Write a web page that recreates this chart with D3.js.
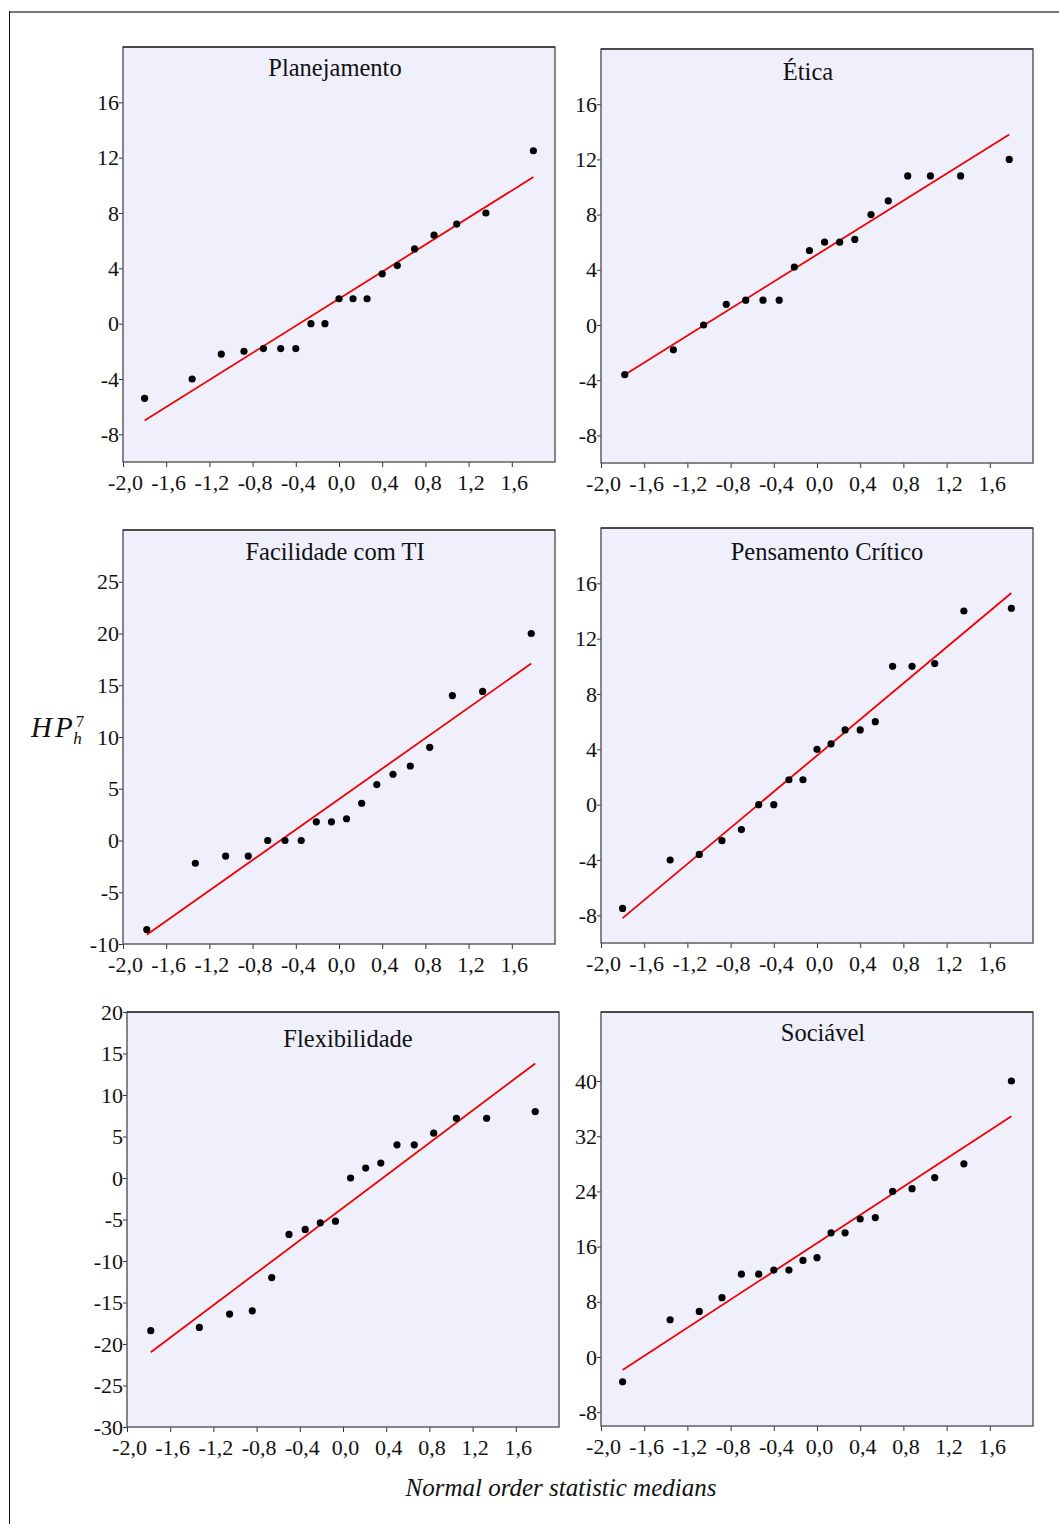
<!DOCTYPE html>
<html>
<head>
<meta charset="utf-8">
<script src="https://cdn.jsdelivr.net/npm/d3@7"></script>
<style>
  body { margin: 0; background: #fff; }
  svg { display: block; }
  .tick text { font-family: "Liberation Serif", "Times New Roman", serif; font-size: 22px; fill: #111; }
  .tick line { stroke: #333; }
  .title { font-family: "Liberation Serif", "Times New Roman", serif; font-size: 24.5px; fill: #111; }
</style>
</head>
<body>
<div id="content"></div>
<script>
// normal order statistic medians (19 and 18 points)
let xMedians19 = [-1.80, -1.36, -1.09, -0.88, -0.70, -0.54, -0.40, -0.26, -0.13, 0.00,
                  0.13, 0.26, 0.40, 0.54, 0.70, 0.88, 1.09, 1.36, 1.80];
let xMedians18 = [-1.78, -1.33, -1.05, -0.84, -0.66, -0.50, -0.35, -0.21, -0.07,
                  0.07, 0.21, 0.35, 0.50, 0.66, 0.84, 1.05, 1.33, 1.78];

// HP values per competence
let planejamentoY = [-5.4, -4.0, -2.2, -2.0, -1.8, -1.8, -1.8, 0, 0, 1.8, 1.8, 1.8, 3.6, 4.2, 5.4, 6.4, 7.2, 8.0, 12.5];
let eticaY = [-3.6, -1.8, 0, 1.5, 1.8, 1.8, 1.8, 4.2, 5.4, 6.0, 6.0, 6.2, 8.0, 9.0, 10.8, 10.8, 10.8, 12.0];
let facilidadeY = [-8.6, -2.2, -1.5, -1.5, 0, 0, 0, 1.8, 1.8, 2.1, 3.6, 5.4, 6.4, 7.2, 9.0, 14.0, 14.4, 20.0];
let pensamentoY = [-7.5, -4.0, -3.6, -2.6, -1.8, 0, 0, 1.8, 1.8, 4.0, 4.4, 5.4, 5.4, 6.0, 10.0, 10.0, 10.2, 14.0, 14.2];
let flexibilidadeY = [-18.4, -18.0, -16.4, -16.0, -12.0, -6.8, -6.2, -5.4, -5.2, 0, 1.2, 1.8, 4.0, 4.0, 5.4, 7.2, 7.2, 8.0];
let sociavelY = [-3.6, 5.4, 6.6, 8.6, 12.0, 12.0, 12.6, 12.6, 14.0, 14.4, 18.0, 18.0, 20.0, 20.2, 24.0, 24.4, 26.0, 28.0, 40.0];

// fitted line: value at first and at last median
let planejamentoFit = [-7.0, 10.6];
let eticaFit = [-3.6, 13.8];
let facilidadeFit = [-9.1, 17.1];
let pensamentoFit = [-8.2, 15.3];
let flexibilidadeFit = [-21.0, 13.8];
let sociavelFit = [-1.9, 34.9];

let titles = ["Planejamento", "Ética", "Facilidade com TI", "Pensamento Crítico", "Flexibilidade", "Sociável"];

let xTicks = [-2.0, -1.6, -1.2, -0.8, -0.4, 0.0, 0.4, 0.8, 1.2, 1.6];
let yTicks16 = [-8, -4, 0, 4, 8, 12, 16];
let yTicks25 = [-10, -5, 0, 5, 10, 15, 20, 25];
let yTicks20 = [-30, -25, -20, -15, -10, -5, 0, 5, 10, 15, 20];
let yTicks40 = [-8, 0, 8, 16, 24, 32, 40];

let yDomains = [[-10, 20], [-10, 20], [-10, 30], [-10, 20], [-30, 20], [-10, 50]];

let panels = [
    {x: xMedians19, y: planejamentoY, fit: planejamentoFit, ticks: yTicks16},
    {x: xMedians18, y: eticaY, fit: eticaFit, ticks: yTicks16},
    {x: xMedians18, y: facilidadeY, fit: facilidadeFit, ticks: yTicks25},
    {x: xMedians19, y: pensamentoY, fit: pensamentoFit, ticks: yTicks16},
    {x: xMedians18, y: flexibilidadeY, fit: flexibilidadeFit, ticks: yTicks20},
    {x: xMedians19, y: sociavelY, fit: sociavelFit, ticks: yTicks40}
];

// where each panel box sits on the page
const layout = [
    {left: 123, top: 47, w: 432, h: 415, tx: 335, ty: 29},
    {left: 601, top: 49, w: 432, h: 414, tx: 808, ty: 31},
    {left: 123, top: 530, w: 432, h: 414, tx: 335, ty: 30},
    {left: 601, top: 528, w: 432, h: 415, tx: 827, ty: 32},
    {left: 127, top: 1012, w: 432, h: 415, tx: 348, ty: 35},
    {left: 601, top: 1012, w: 432, h: 414, tx: 823, ty: 29}
];

const width = 1059, height = 1524;
// hyphen instead of d3's unicode minus, comma as decimal mark
const commaFormat = d => d3.format(".1f")(d).replace("−", "-").replace(".", ",");
const intFormat = d => d3.format("d")(d).replace("−", "-");

var svg = d3.select("#content")
    .append("svg")
    .attr("width", width)
    .attr("height", height);

// outer frame (only top and left visible)
svg.append("line")
    .attr("x1", 9).attr("x2", width).attr("y1", 12).attr("y2", 12)
    .style("stroke", "#7a7a7a").style("stroke-width", 2);
svg.append("line")
    .attr("x1", 9.5).attr("x2", 9.5).attr("y1", 11).attr("y2", height)
    .style("stroke", "#111").style("stroke-width", 1);

function drawPanel(p, i)
{
    let L = layout[i];
    let g = svg.append("g")
        .attr("transform", "translate(" + L.left + "," + L.top + ")");

    let x = d3.scaleLinear().domain([-2, 2]).range([0, L.w]);
    let y = d3.scaleLinear().domain(yDomains[i]).range([L.h, 0]);

    g.append("rect")
        .attr("width", L.w)
        .attr("height", L.h)
        .style("fill", "#f0f0fd")
        .style("stroke", "none");

    let xAxis = d3.axisBottom(x)
        .tickValues(xTicks)
        .tickSize(5)
        .tickPadding(7)
        .tickFormat(commaFormat);

    let yAxis = d3.axisLeft(y)
        .tickValues(p.ticks)
        .tickSize(4)
        .tickPadding(0)
        .tickFormat(intFormat);

    let gx = g.append("g")
        .attr("transform", "translate(0," + L.h + ")")
        .call(xAxis);
    gx.select(".domain").remove();
    gx.selectAll(".tick text").attr("dx", 2);

    let gy = g.append("g").call(yAxis);
    gy.select(".domain").remove();

    // box
    g.append("rect")
        .attr("width", L.w)
        .attr("height", L.h)
        .style("fill", "none")
        .style("stroke", "#555")
        .style("stroke-width", 1.4);
    g.append("line")
        .attr("x1", 0).attr("x2", L.w).attr("y1", 0).attr("y2", 0)
        .style("stroke", "#111").style("stroke-width", 1);

    let n = p.x.length;
    let fitData = [[p.x[0], p.fit[0]], [p.x[n - 1], p.fit[1]]];
    g.append("path")
        .datum(fitData)
        .style("fill", "none")
        .style("stroke", "#f00000")
        .style("stroke-width", "1.8px")
        .attr("d", d3.line().x(d => x(d[0])).y(d => y(d[1])));

    g.selectAll("circle.pt")
        .data(p.y)
        .enter()
        .append("circle")
        .attr("class", "pt")
        .attr("cx", (d, j) => x(p.x[j]))
        .attr("cy", d => y(d))
        .attr("r", 3.6)
        .style("fill", "#000");

    g.append("text")
        .attr("class", "title")
        .attr("x", L.tx - L.left)
        .attr("y", L.ty)
        .attr("text-anchor", "middle")
        .text(titles[i]);
}

panels.forEach(drawPanel);

// y axis label HP_h^7 (one text, scripts as tspans)
let serif = "'Liberation Serif', 'Times New Roman', serif";
let yLabel = svg.append("text")
    .attr("x", 31)
    .attr("y", 737)
    .style("font-family", serif)
    .style("font-style", "italic")
    .style("font-size", "29px")
    .style("fill", "#111");
yLabel.append("tspan")
    .style("letter-spacing", "3px")
    .text("HP");
yLabel.append("tspan")
    .attr("dy", -10)
    .style("font-style", "normal")
    .style("font-size", "17px")
    .text("7");
yLabel.append("tspan")
    .attr("dx", -11)
    .attr("dy", 17)
    .style("font-size", "17px")
    .text("h");

// x axis label
svg.append("text")
    .attr("x", 561)
    .attr("y", 1496)
    .attr("text-anchor", "middle")
    .style("font-family", serif)
    .style("font-style", "italic")
    .style("font-size", "25px")
    .style("fill", "#111")
    .text("Normal order statistic medians");
</script>
</body>
</html>
